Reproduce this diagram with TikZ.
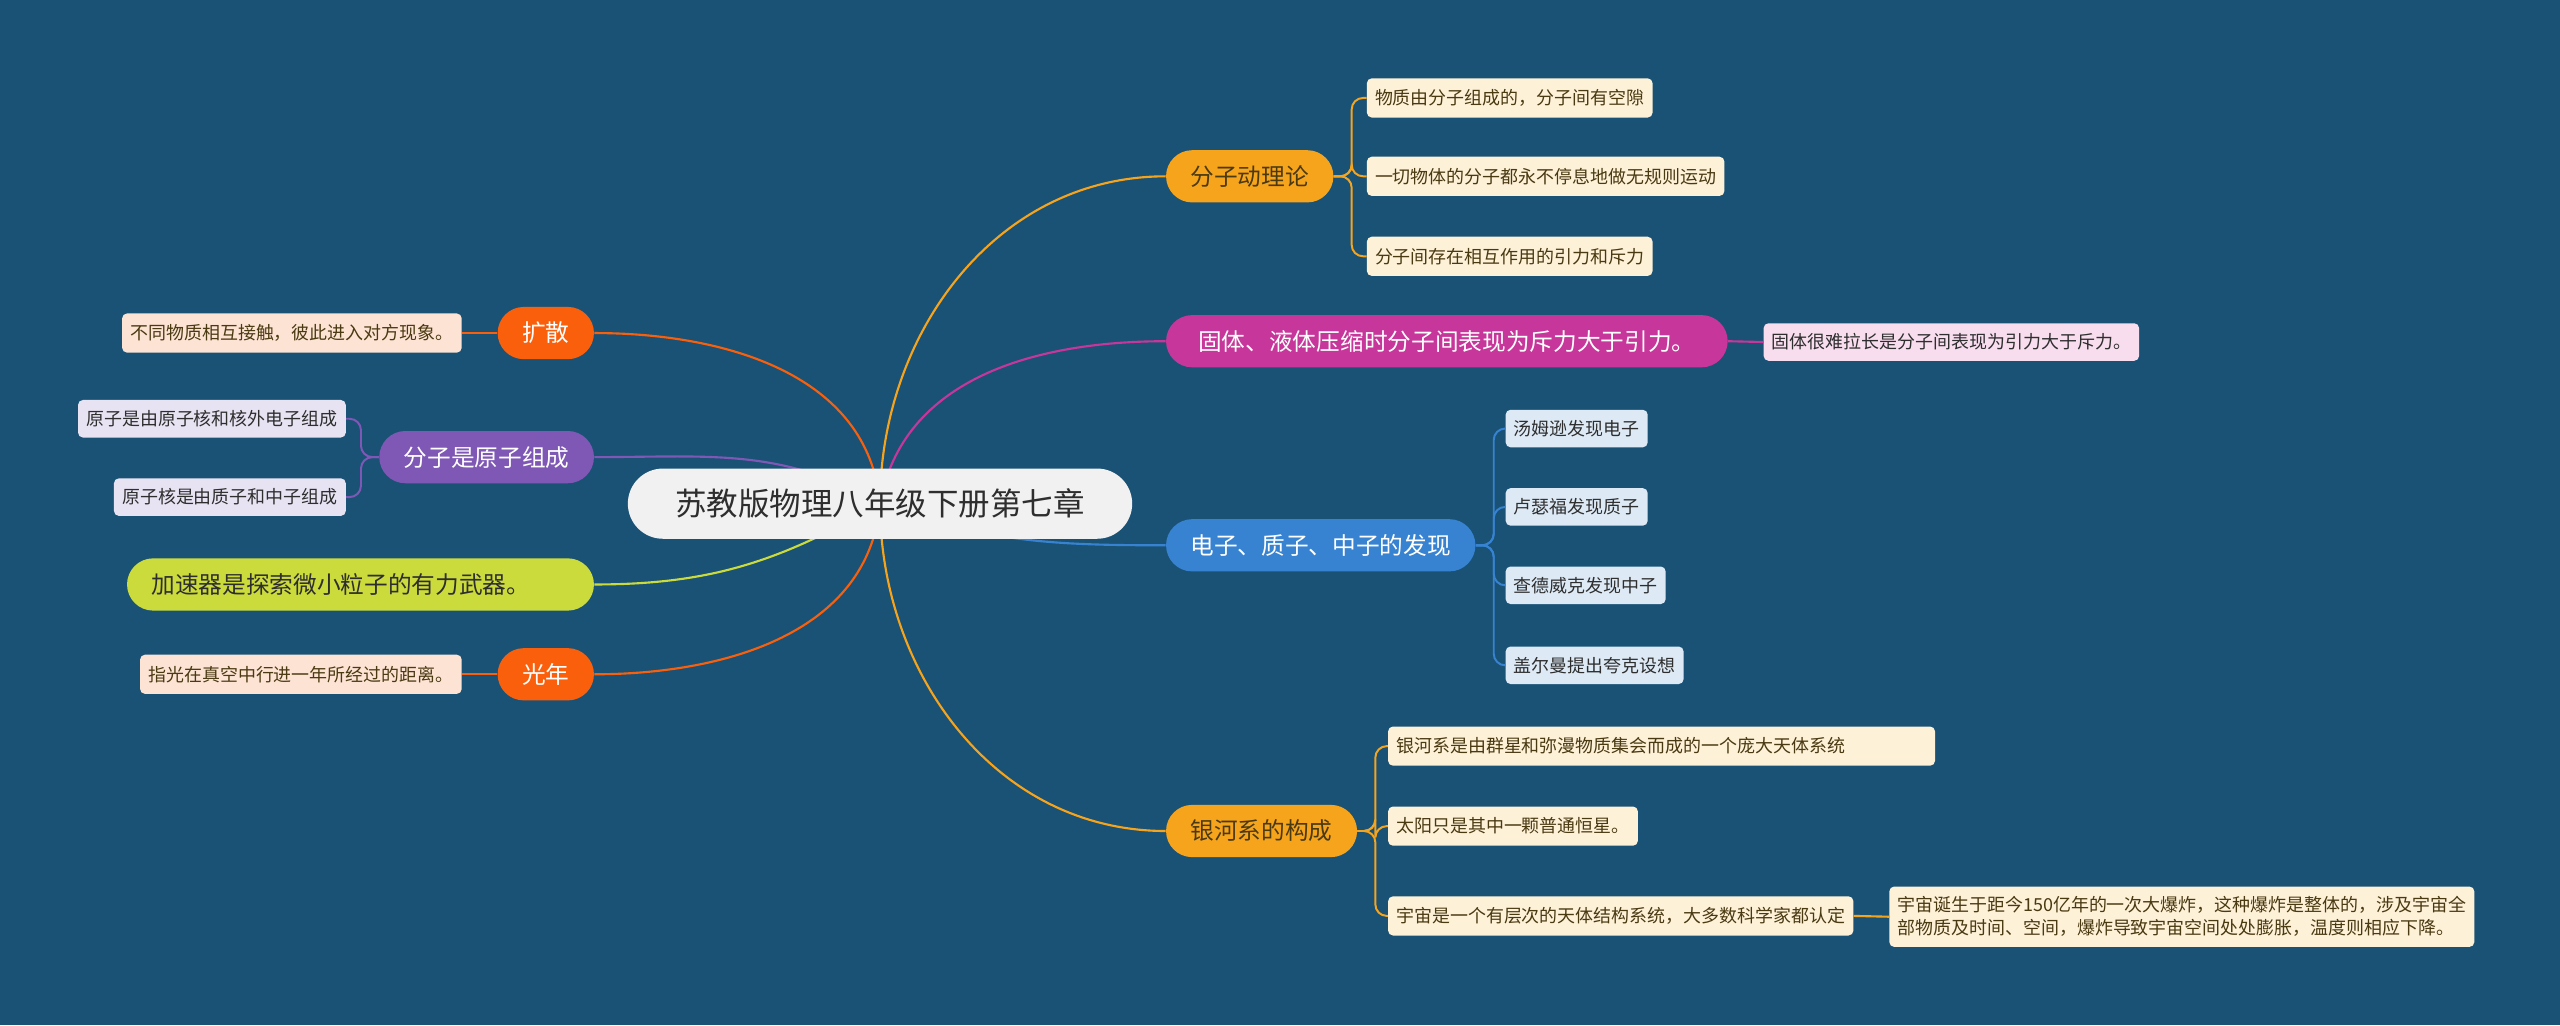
\documentclass[tikz,border=0pt]{standalone}
\usepackage{fontspec}
\newfontfamily\cjk{Noto Sans CJK SC}
\usetikzlibrary{backgrounds}
\definecolor{fond}{HTML}{1A5276}
\definecolor{gris}{HTML}{F1F1F1}
\definecolor{texte}{HTML}{2E2E2E}
\definecolor{brun}{HTML}{4A3A12}
\definecolor{orange1}{HTML}{F7A41D}
\definecolor{rouge1}{HTML}{FA600C}
\definecolor{violet1}{HTML}{7F58B5}
\definecolor{vert1}{HTML}{CCDB3C}
\definecolor{magenta1}{HTML}{C7369A}
\definecolor{bleu1}{HTML}{3883D1}
\definecolor{creme}{HTML}{FDF1D8}
\definecolor{rose}{HTML}{F7DDEE}
\definecolor{bleuclair}{HTML}{DDEAF6}
\definecolor{lavande}{HTML}{E8E3F3}
\definecolor{peche}{HTML}{FDE3D4}
\begin{document}
\begin{tikzpicture}[x=1pt,y=1pt]
			% Styles
			\tikzstyle{racine}=[rectangle,rounded corners=21.5pt,fill=gris,text=texte,minimum height=43pt,inner xsep=29pt,inner ysep=0pt,font=\cjk\fontsize{19.3}{23}\selectfont]
			\tikzstyle{branche}=[rectangle,rounded corners=16pt,minimum height=32pt,inner xsep=15pt,inner ysep=0pt,font=\cjk\fontsize{14.5}{17}\selectfont]
			\tikzstyle{feuille}=[rectangle,rounded corners=3pt,minimum height=24pt,inner xsep=5pt,inner ysep=0pt,text=texte,font=\cjk\fontsize{11}{14}\selectfont]
			\tikzstyle{lien}=[line width=1.3pt]
			\tikzstyle{crochet}=[line width=1.2pt,rounded corners=7pt]
			% Dimensions
			\def\Crochet{11}
			% Fond
			\useasboundingbox (0,0) rectangle (1568,628);
			\begin{scope}[on background layer]
				\fill[fond] (0,0) rectangle (1568,628);
			\end{scope}
			% Noeuds
			\node[racine] (R) at (539,319.5) {苏教版物理八年级下册第七章};
			% droite
			\node[branche,fill=orange1,text=brun,anchor=west] (fz) at (714,520) {分子动理论};
			\node[feuille,fill=creme,text=brun,anchor=west] (fz1) at (837,568) {物质由分子组成的，分子间有空隙};
			\node[feuille,fill=creme,text=brun,anchor=west] (fz2) at (837,520) {一切物体的分子都永不停息地做无规则运动};
			\node[feuille,fill=creme,text=brun,anchor=west] (fz3) at (837,471) {分子间存在相互作用的引力和斥力};
			\node[branche,fill=magenta1,text=white,anchor=west,minimum width=344pt] (gt) at (714,419) {固体、液体压缩时分子间表现为斥力大于引力。};
			\node[feuille,fill=rose,anchor=west,minimum height=23pt] (gt1) at (1080,418.5) {固体很难拉长是分子间表现为引力大于斥力。};
			\node[branche,fill=bleu1,text=white,anchor=west] (dz) at (714,294) {电子、质子、中子的发现};
			\node[feuille,fill=bleuclair,anchor=west,minimum height=23pt] (dz1) at (922,365.5) {汤姆逊发现电子};
			\node[feuille,fill=bleuclair,anchor=west,minimum height=23pt] (dz2) at (922,317.5) {卢瑟福发现质子};
			\node[feuille,fill=bleuclair,anchor=west,minimum height=23pt] (dz3) at (922,269.5) {查德威克发现中子};
			\node[feuille,fill=bleuclair,anchor=west,minimum height=23pt] (dz4) at (922,220.5) {盖尔曼提出夸克设想};
			\node[branche,fill=orange1,text=brun,anchor=west] (yh) at (714,119) {银河系的构成};
			\node[feuille,fill=creme,text=brun,anchor=west,text width=325pt,align=left] (yh1) at (850,171) {银河系是由群星和弥漫物质集会而成的一个庞大天体系统};
			\node[feuille,fill=creme,text=brun,anchor=west] (yh2) at (850,122) {太阳只是其中一颗普通恒星。};
			\node[feuille,fill=creme,text=brun,anchor=west] (yh3) at (850,67) {宇宙是一个有层次的天体结构系统，大多数科学家都认定};
			\node[feuille,fill=creme,text=brun,anchor=west,align=left,minimum height=37pt] (yh3a) at (1157,66.5) {宇宙诞生于距今150亿年的一次大爆炸，这种爆炸是整体的，涉及宇宙全\\部物质及时间、空间，爆炸导致宇宙空间处处膨胀，温度则相应下降。};
			% gauche
			\node[branche,fill=rouge1,text=white,anchor=east] (ks) at (364,424) {扩散};
			\node[feuille,fill=peche,text=brun,anchor=east] (ks1) at (283,424) {不同物质相互接触，彼此进入对方现象。};
			\node[branche,fill=violet1,text=white,anchor=east] (yz) at (364,348) {分子是原子组成};
			\node[feuille,fill=lavande,anchor=east,minimum height=23pt] (yz1) at (212,371.5) {原子是由原子核和核外电子组成};
			\node[feuille,fill=lavande,anchor=east,minimum height=23pt] (yz2) at (212,323.5) {原子核是由质子和中子组成};
			\node[branche,fill=vert1,text=texte,anchor=east,text width=256pt,align=left] (js) at (364,270) {加速器是探索微小粒子的有力武器。};
			\node[branche,fill=rouge1,text=white,anchor=east] (gn) at (364,215) {光年};
			\node[feuille,fill=peche,text=brun,anchor=east] (gn1) at (283,215) {指光在真空中行进一年所经过的距离。};
			% Arcs
			\begin{scope}[on background layer]
				\draw[lien,orange1] (R.center) to[out=90,in=180] (fz.west);
				\draw[lien,magenta1] (R.center) to[out=80,in=180] (gt.west);
				\draw[lien,bleu1] (R.center) to[out=-20,in=180] (dz.west);
				\draw[lien,orange1] (R.center) to[out=-90,in=180] (yh.west);
				\draw[lien,rouge1] (R.center) to[out=95,in=0] (ks.east);
				\draw[lien,violet1] (R.center) to[out=150,in=0] (yz.east);
				\draw[lien,vert1] (R.center) to[out=-150,in=0] (js.east);
				\draw[lien,rouge1] (R.center) to[out=-95,in=0] (gn.east);
			\end{scope}
			\foreach \f in {fz1,fz2,fz3}
				\draw[crochet,orange1] (fz.east) -- ++(\Crochet,0) |- (\f.west);
			\foreach \f in {dz1,dz2,dz3,dz4}
				\draw[crochet,bleu1] (dz.east) -- ++(\Crochet,0) |- (\f.west);
			\foreach \f in {yh1,yh2,yh3}
				\draw[crochet,orange1] (yh.east) -- ++(\Crochet,0) |- (\f.west);
			\foreach \f in {yz1,yz2}
				\draw[crochet,violet1] (yz.west) -- ++(-\Crochet,0) |- (\f.east);
			\draw[lien,magenta1] (gt.east) -- (gt1.west);
			\draw[lien,rouge1] (ks.west) -- (ks1.east);
			\draw[lien,rouge1] (gn.west) -- (gn1.east);
			\draw[lien,orange1] (yh3.east) -- (yh3a.west);
		\end{tikzpicture}
\end{document}
